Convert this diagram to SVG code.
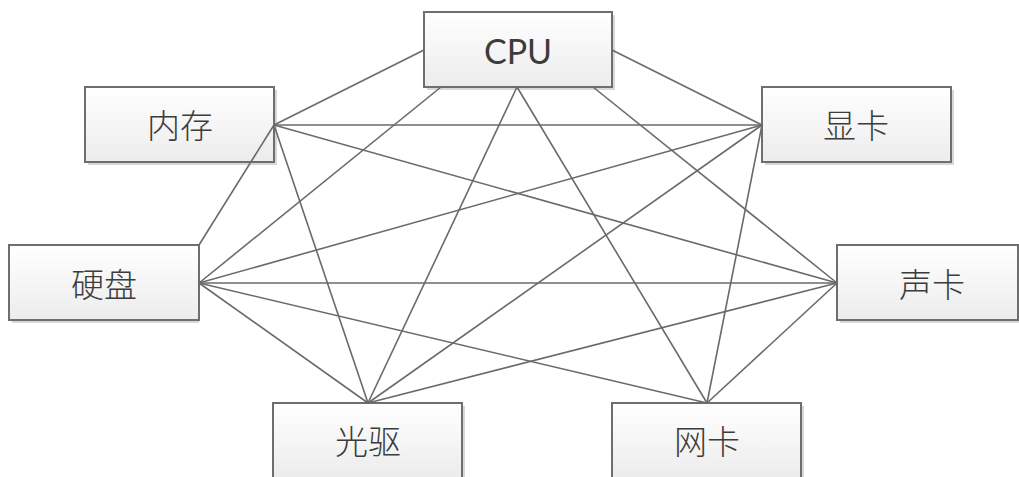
<svg xmlns="http://www.w3.org/2000/svg" width="1019" height="477" viewBox="0 0 1019 477">
<defs>
<linearGradient id="g" x1="0" y1="0" x2="0" y2="1">
<stop offset="0" stop-color="#ffffff"/>
<stop offset="1" stop-color="#ececec"/>
</linearGradient>
<style>
.box{fill:url(#g);stroke:#6e6e6e;stroke-width:2}
.sh{fill:#d8d8d8}
.t{font-family:"Noto Sans CJK SC","Noto Sans",sans-serif;font-size:33px;font-weight:300;fill:#3c3c3c;text-anchor:middle;dominant-baseline:central}
.e{font-family:Lato,"Liberation Sans",sans-serif;font-size:34px;fill:#3c3c3c;text-anchor:middle;dominant-baseline:central}
.c line{stroke:#6a6a6a;stroke-width:1.6;fill:none}
</style>
</defs>
<rect width="1019" height="477" fill="#ffffff"/>
<g id="cpu">
<rect class="sh" x="427" y="15" width="188" height="75"/>
<rect class="box" x="424" y="12" width="188" height="75"/>
<text class="e" x="518" y="50">CPU</text>
</g>
<g id="neicun">
<rect class="sh" x="88" y="90" width="189" height="75"/>
<rect class="box" x="85" y="87" width="189" height="75"/>
<text class="t" x="180" y="124">内存</text>
</g>
<g id="xianka">
<rect class="sh" x="765" y="90" width="189" height="75"/>
<rect class="box" x="762" y="87" width="189" height="75"/>
<text class="t" x="856" y="124">显卡</text>
</g>
<g id="yingpan">
<rect class="sh" x="12" y="248" width="187" height="75"/>
<rect class="box" x="9" y="245" width="190" height="75"/>
<text class="t" x="104" y="283">硬盘</text>
</g>
<g id="shengka">
<rect class="sh" x="840" y="248" width="181" height="75"/>
<rect class="box" x="837" y="245" width="181" height="75"/>
<text class="t" x="932" y="283">声卡</text>
</g>
<g id="guangqu">
<rect class="sh" x="276" y="406" width="189" height="75"/>
<rect class="box" x="273" y="403" width="189" height="75"/>
<text class="t" x="368" y="440">光驱</text>
</g>
<g id="wangka">
<rect class="sh" x="615" y="406" width="189" height="75"/>
<rect class="box" x="612" y="403" width="189" height="75"/>
<text class="t" x="707" y="440">网卡</text>
</g>
<g id="connectors" class="c">
<line x1="424" y1="50" x2="274" y2="125"/>
<line x1="612" y1="50" x2="762" y2="125"/>
<line x1="441" y1="87" x2="199" y2="283"/>
<line x1="517" y1="87" x2="368" y2="403"/>
<line x1="517" y1="87" x2="707" y2="403"/>
<line x1="593" y1="87" x2="837" y2="283"/>
<line x1="274" y1="125" x2="762" y2="125"/>
<line x1="274" y1="125" x2="199" y2="245"/>
<line x1="274" y1="125" x2="837" y2="283"/>
<line x1="274" y1="125" x2="368" y2="403"/>
<line x1="762" y1="125" x2="199" y2="283"/>
<line x1="762" y1="125" x2="368" y2="403"/>
<line x1="762" y1="125" x2="707" y2="403"/>
<line x1="199" y1="283" x2="837" y2="283"/>
<line x1="199" y1="283" x2="368" y2="403"/>
<line x1="199" y1="283" x2="707" y2="403"/>
<line x1="837" y1="283" x2="368" y2="403"/>
<line x1="837" y1="283" x2="707" y2="403"/>
</g>
</svg>
